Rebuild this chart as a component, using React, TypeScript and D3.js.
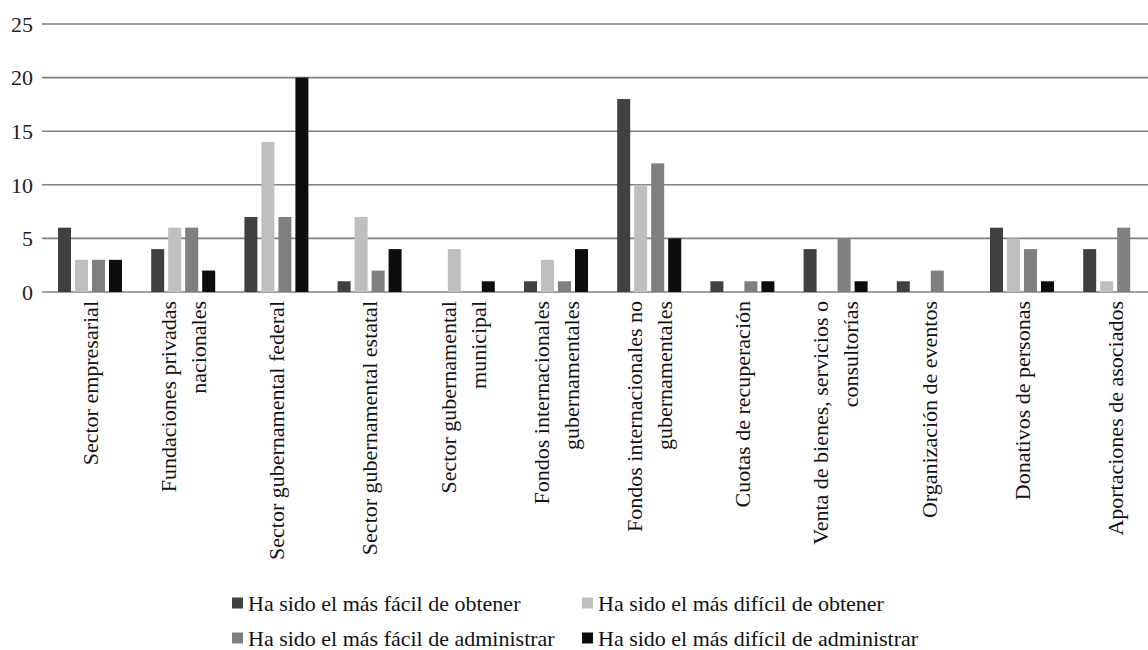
import React, { useEffect } from "react";
import * as d3 from "d3";

// Fuentes de financiamiento (cada etiqueta puede ocupar dos líneas)
const categories: string[][] = [
  ["Sector empresarial"],
  ["Fundaciones privadas", "nacionales"],
  ["Sector gubernamental federal"],
  ["Sector gubernamental estatal"],
  ["Sector gubernamental", "municipal"],
  ["Fondos internacionales", "gubernamentales"],
  ["Fondos internacionales no", "gubernamentales"],
  ["Cuotas de recuperación"],
  ["Venta de bienes, servicios o", "consultorías"],
  ["Organización de eventos"],
  ["Donativos de personas"],
  ["Aportaciones de asociados"],
];

const seriesNames = [
  "Ha sido el más fácil de obtener",
  "Ha sido el más difícil de obtener",
  "Ha sido el más fácil de administrar",
  "Ha sido el más difícil de administrar",
];

const seriesColors = ["#404040", "#bfbfbf", "#7f7f7f", "#0d0d0d"];

const facilObtener = [6, 4, 7, 1, 0, 1, 18, 1, 4, 1, 6, 4];
const dificilObtener = [3, 6, 14, 7, 4, 3, 10, 0, 0, 0, 5, 1];
const facilAdministrar = [3, 6, 7, 2, 0, 1, 12, 1, 5, 2, 4, 6];
const dificilAdministrar = [3, 2, 20, 4, 1, 4, 5, 1, 1, 0, 1, 0];

const seriesValues = [facilObtener, dificilObtener, facilAdministrar, dificilAdministrar];

const yTicks = [0, 5, 10, 15, 20, 25];

const FONT = "Liberation Serif";

export default function App() {
  useEffect(() => {
    document.body.style.margin = "0";
  }, []);

  const width = 1148;
  const height = 650;
  const keys = categories.map((c) => c.join(" "));

  const x0 = d3.scaleBand<string>().domain(keys).range([43.4, 1161.8]).padding(0);
  const x1 = d3
    .scaleBand<number>()
    .domain(d3.range(seriesNames.length))
    .range([14.6, 78.6])
    .paddingInner(4 / 17)
    .paddingOuter(0);
  const y = d3.scaleLinear().domain([0, 25]).range([292, 24]);

  const legendCols = [232, 582];
  const legendRows = [603, 638];

  return (
    <svg width={width} height={height} fontFamily={FONT} style={{ display: "block", background: "#fff" }}>
      {/* líneas de cuadrícula y marcas del eje Y */}
      {yTicks.map((t) => (
        <g key={t}>
          <line x1={42} x2={width} y1={y(t)} y2={y(t)} stroke="#808080" strokeWidth={1.6} />
          <text x={33} y={y(t)} dy="0.35em" textAnchor="end" fontFamily={FONT} fontSize={22} fill="#222">
            {t}
          </text>
        </g>
      ))}

      {/* barras agrupadas */}
      {keys.map((k, i) => (
        <g key={k} transform={`translate(${x0(k)},0)`}>
          {seriesValues.map((vals, s) =>
            vals[i] > 0 ? (
              <rect
                key={s}
                x={x1(s)}
                y={y(vals[i])}
                width={x1.bandwidth()}
                height={y(0) - y(vals[i])}
                fill={seriesColors[s]}
              />
            ) : null
          )}
        </g>
      ))}

      {/* etiquetas de categoría rotadas */}
      {categories.map((lines, i) => {
        const cx = (x0(keys[i]) as number) + x0.bandwidth() / 2;
        const gap = 30;
        return lines.map((line, j) => {
          const lx = cx + (j - (lines.length - 1) / 2) * gap;
          return (
            <text
              key={`${i}-${j}`}
              transform={`translate(${lx},301) rotate(-90)`}
              dy="0.35em"
              textAnchor="end"
              fontFamily={FONT}
              fontSize={22}
              fill="#111"
            >
              {line}
            </text>
          );
        });
      })}

      {/* leyenda */}
      {seriesNames.map((name, s) => {
        const lx = legendCols[s % 2];
        const ly = legendRows[Math.floor(s / 2)];
        return (
          <g key={name}>
            <rect x={lx} y={ly - 5.5} width={11} height={11} fill={seriesColors[s]} />
            <text x={lx + 16} y={ly} dy="0.35em" fontFamily={FONT} fontSize={22} fill="#111">
              {name}
            </text>
          </g>
        );
      })}
    </svg>
  );
}
